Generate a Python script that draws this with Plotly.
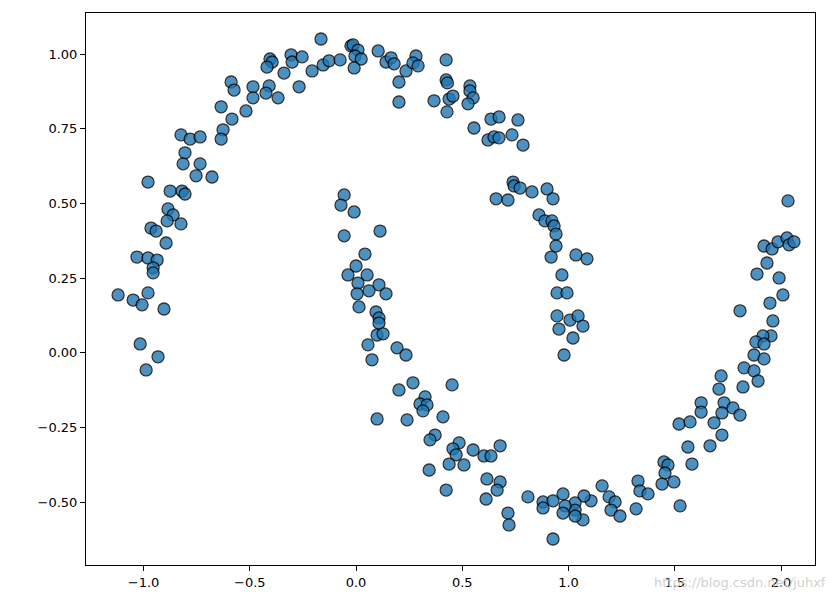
import plotly.graph_objects as go

x_vals = [
    -0.165, -0.405, -0.395, -0.419, -0.306, -0.301, -0.254, -0.339, -0.207, -0.155,
    -0.127, -0.588, -0.574, -0.485, -0.409, -0.424, -0.367, -0.485, -0.268, -0.635,
    -0.518, -0.584, -0.626, -0.635, -0.824, -0.781, -0.734, -0.805,
    -0.075, -0.024, -0.014, 0.009, -0.005, 0.024, -0.009, 0.104, 0.141, 0.165,
    0.179, 0.235, 0.202, 0.282, 0.268, 0.292, 0.424, 0.424, 0.430, 0.202,
    0.367, 0.438, 0.456, 0.428, 0.536, 0.536, 0.551, 0.527, 0.555, 0.635,
    0.673, 0.762, 0.621, 0.649, 0.673, 0.734, 0.786,
    -0.814, -0.734, -0.753, -0.678, -0.979, -0.875, -0.819, -0.805, -0.885, -0.861,
    -0.889, -0.824, -0.965, -0.941, -0.894, -1.031, -0.979, -0.936, -0.955, -0.955,
    -1.120, -0.979, -1.049, -1.007, -0.904, -1.016, -0.932, -0.988,
    -0.056, -0.071, -0.009, -0.056, 0.113, 0.042, 0.000, -0.038, 0.052, 0.009,
    0.108, 0.005, 0.061, 0.141, 0.739, 0.744, 0.772, 0.828, 0.899, 0.927,
    0.659, 0.715, 0.861, 0.889, 0.922, 0.932, 0.941, 0.941, 0.918, 1.035,
    0.969, 0.946, 0.993,
    0.014, 0.094, 0.108, 0.108, 0.099, 0.127, 0.056, 0.075, 0.193, 0.235,
    0.268, 0.202, 0.452, 0.325, 0.301, 0.334, 0.315, 0.409, 0.099, 0.240,
    0.372, 0.946, 1.007, 1.045, 1.068, 0.955, 1.021, 0.979,
    1.087, 2.033, 1.920, 1.958, 1.986, 2.028, 2.038, 2.061, 1.934, 1.887,
    1.991, 2.009,
    1.948, 1.807, 1.962, 1.953, 1.915, 1.882, 1.920, 1.873, 1.920, 1.826,
    1.873, 1.892, 1.718, 1.708, 1.821, 1.624, 1.624, 1.732, 1.774, 1.722,
    1.807, 1.520, 1.572, 1.685, 1.722,
    1.562, 1.666, 1.581, 1.449, 1.468, 1.454, 1.440, 1.496, 1.525, 1.327,
    1.336, 1.374, 1.318, 1.158, 1.191, 1.219, 1.200, 1.242, 1.106, 1.073,
    1.068, 1.031, 1.031, 1.031,
    0.348, 0.485, 0.456, 0.471, 0.551, 0.602, 0.635, 0.678, 0.344, 0.438,
    0.508, 0.616, 0.678, 0.664, 0.612, 0.424, 0.715, 0.720, 0.809, 0.880,
    0.880, 0.927, 0.974, 0.984, 0.974, 0.927,
]

y_vals = [
    1.051, 0.984, 0.974, 0.957, 0.998, 0.974, 0.991, 0.937, 0.944, 0.964,
    0.978, 0.907, 0.880, 0.891, 0.894, 0.870, 0.854, 0.854, 0.891, 0.824,
    0.810, 0.783, 0.747, 0.716, 0.730, 0.716, 0.723, 0.670,
    0.981, 1.028, 1.031, 1.014, 0.994, 0.984, 0.954, 1.011, 0.974, 0.988,
    0.968, 0.944, 0.907, 0.994, 0.971, 0.961, 0.981, 0.914, 0.904, 0.840,
    0.844, 0.850, 0.860, 0.807, 0.894, 0.877, 0.854, 0.834, 0.753, 0.783,
    0.790, 0.780, 0.713, 0.723, 0.720, 0.730, 0.696,
    0.633, 0.633, 0.593, 0.589, 0.572, 0.542, 0.542, 0.532, 0.482, 0.462,
    0.442, 0.432, 0.418, 0.408, 0.368, 0.321, 0.318, 0.311, 0.285, 0.268,
    0.194, 0.201, 0.177, 0.161, 0.147, 0.030, -0.013, -0.057,
    0.529, 0.495, 0.472, 0.392, 0.408, 0.331, 0.291, 0.261, 0.261, 0.234,
    0.228, 0.198, 0.208, 0.198, 0.572, 0.559, 0.552, 0.539, 0.549, 0.516,
    0.516, 0.512, 0.462, 0.442, 0.442, 0.425, 0.398, 0.358, 0.321, 0.328,
    0.261, 0.201, 0.201,
    0.154, 0.137, 0.117, 0.100, 0.060, 0.064, 0.027, -0.023, 0.017, -0.007,
    -0.100, -0.124, -0.107, -0.147, -0.171, -0.174, -0.194, -0.214, -0.221, -0.224,
    -0.275, 0.124, 0.110, 0.124, 0.090, 0.080, 0.050, -0.007,
    0.315, 0.509, 0.358, 0.348, 0.372, 0.385, 0.362, 0.372, 0.301, 0.264,
    0.251, 0.194,
    0.167, 0.141, 0.107, 0.057, 0.057, 0.037, 0.030, -0.007, -0.020, -0.050,
    -0.060, -0.094, -0.077, -0.121, -0.114, -0.167, -0.198, -0.167, -0.184, -0.201,
    -0.208, -0.238, -0.231, -0.234, -0.275,
    -0.315, -0.311, -0.372, -0.365, -0.375, -0.402, -0.439, -0.432, -0.512, -0.429,
    -0.462, -0.472, -0.522, -0.445, -0.482, -0.499, -0.526, -0.546, -0.495, -0.479,
    -0.559, -0.502, -0.526, -0.546,
    -0.291, -0.301, -0.321, -0.341, -0.325, -0.345, -0.345, -0.311, -0.392, -0.372,
    -0.375, -0.422, -0.432, -0.459, -0.489, -0.459, -0.536, -0.576, -0.482, -0.499,
    -0.519, -0.495, -0.472, -0.512, -0.536, -0.623,
]

x_ticks = [-1.0, -0.5, 0.0, 0.5, 1.0, 1.5, 2.0]
x_tick_labels = ["\u22121.0", "\u22120.5", "0.0", "0.5", "1.0", "1.5", "2.0"]
y_ticks = [1.00, 0.75, 0.50, 0.25, 0.00, -0.25, -0.50]
y_tick_labels = ["1.00", "0.75", "0.50", "0.25", "0.00", "\u22120.25", "\u22120.50"]

fig = go.Figure()
fig.add_trace(go.Scatter(
    x=x_vals, y=y_vals, mode="markers",
    marker=dict(size=12, color="#1f77b4", opacity=0.8,
                line=dict(color="black", width=1.3)),
    showlegend=False, hoverinfo="skip",
))

axis_common = dict(
    showline=True, linecolor="black", linewidth=1, mirror=True,
    showgrid=False, zeroline=False,
    ticks="outside", ticklen=5, tickwidth=1, tickcolor="black",
    tickfont=dict(family="DejaVu Sans", size=13, color="black"),
)

fig.update_layout(
    width=835, height=602,
    margin=dict(l=86, r=20, t=13, b=37, autoexpand=False),
    plot_bgcolor="white", paper_bgcolor="white",
    xaxis=dict(range=[-1.271, 2.160], tickvals=x_ticks, ticktext=x_tick_labels, **axis_common),
    yaxis=dict(range=[-0.710, 1.138], tickvals=y_ticks, ticktext=y_tick_labels, **axis_common),
    annotations=[dict(
        text="https://blog.csdn.net/juhxf", xref="paper", yref="paper",
        x=1.0178, y=-0.0326, xanchor="right", yanchor="middle", showarrow=False,
        font=dict(family="DejaVu Sans", size=13, color="rgba(200,200,200,0.85)"),
    )],
)

fig.write_html(
    "out.html",
    config={"displayModeBar": False},
    post_script="document.body.style.margin='0';document.body.style.overflow='hidden';",
)
